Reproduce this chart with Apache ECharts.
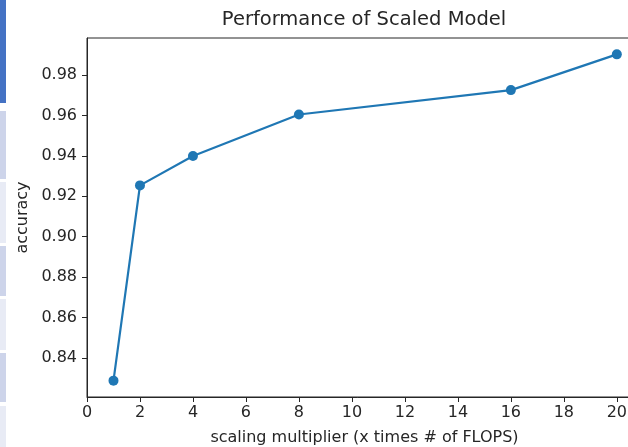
<!DOCTYPE html>
<html>
<head>
<meta charset="utf-8">
<script src="https://cdn.jsdelivr.net/npm/echarts@6/dist/echarts.min.js"></script>
<style>
  html, body { margin: 0; padding: 0; background: #fff; }
  #chart { width: 628px; height: 447px; }
</style>
</head>
<body>
<div id="chart"></div>
<script>
const multipliers = [1, 2, 4, 8, 16, 20];
const accuracy = [0.8287, 0.9254, 0.9400, 0.9605, 0.9726, 0.9903];
const xTicks = [0, 2, 4, 6, 8, 10, 12, 14, 16, 18, 20];
const yTicks = [0.84, 0.86, 0.88, 0.90, 0.92, 0.94, 0.96, 0.98];

const font = 'DejaVu Sans';
const textColor = '#262626';
const spineColor = '#262626';

// leftover sidebar strip from the screenshot
const strip = [
  { y: 0, h: 103, c: '#4472c4' },
  { y: 111, h: 68, c: '#cdd4ea' },
  { y: 182, h: 61, c: '#e8ebf5' },
  { y: 246, h: 50, c: '#cdd4ea' },
  { y: 299, h: 51, c: '#e8ebf5' },
  { y: 353, h: 49, c: '#cdd4ea' },
  { y: 406, h: 41, c: '#e8ebf5' },
];

const chart = echarts.init(document.getElementById('chart'), null, { renderer: 'canvas' });

chart.setOption({
  animation: false,
  backgroundColor: '#fff',
  title: {
    text: 'Performance of Scaled Model',
    left: 364,
    top: 10,
    padding: 0,
    textAlign: 'center',
    textStyle: { fontFamily: font, fontSize: 19.5, fontWeight: 'normal', color: textColor },
  },
  graphic: strip.map((s) => ({
    type: 'rect',
    shape: { x: 0, y: s.y, width: 6, height: s.h },
    style: { fill: s.c },
    silent: true,
  })),
  grid: {
    left: 87,
    right: -14,
    top: 38,
    bottom: 50,
    show: true,
    borderColor: spineColor,
    borderWidth: 1,
    containLabel: false,
    outerBoundsMode: 'none',
  },
  xAxis: {
    type: 'value',
    min: 0,
    max: 20.95,
    name: 'scaling multiplier (x times # of FLOPS)',
    nameLocation: 'middle',
    nameGap: 33,
    nameTextStyle: { fontFamily: font, fontSize: 16, color: textColor },
    axisLine: { show: true, onZero: false, lineStyle: { color: spineColor, width: 1 } },
    axisTick: { show: true, inside: false, length: 5, customValues: xTicks, lineStyle: { color: spineColor } },
    axisLabel: {
      customValues: xTicks,
      margin: 8,
      fontFamily: font,
      fontSize: 16,
      color: textColor,
    },
    splitLine: { show: false },
  },
  yAxis: {
    type: 'value',
    min: 0.8206,
    max: 0.9984,
    name: 'accuracy',
    nameLocation: 'middle',
    nameGap: 56,
    nameTextStyle: { fontFamily: font, fontSize: 16, color: textColor },
    axisLine: { show: true, onZero: false, lineStyle: { color: spineColor, width: 1 } },
    axisTick: { show: true, inside: false, length: 5, customValues: yTicks, lineStyle: { color: spineColor } },
    axisLabel: {
      customValues: yTicks,
      margin: 10,
      fontFamily: font,
      fontSize: 16,
      color: textColor,
      formatter: (v) => v.toFixed(2),
    },
    splitLine: { show: false },
  },
  series: [
    {
      type: 'line',
      data: multipliers.map((m, i) => [m, accuracy[i]]),
      symbol: 'circle',
      symbolSize: 10,
      showAllSymbol: true,
      clip: false,
      lineStyle: { color: '#1f77b4', width: 2.2 },
      itemStyle: { color: '#1f77b4' },
    },
  ],
});
</script>
</body>
</html>
